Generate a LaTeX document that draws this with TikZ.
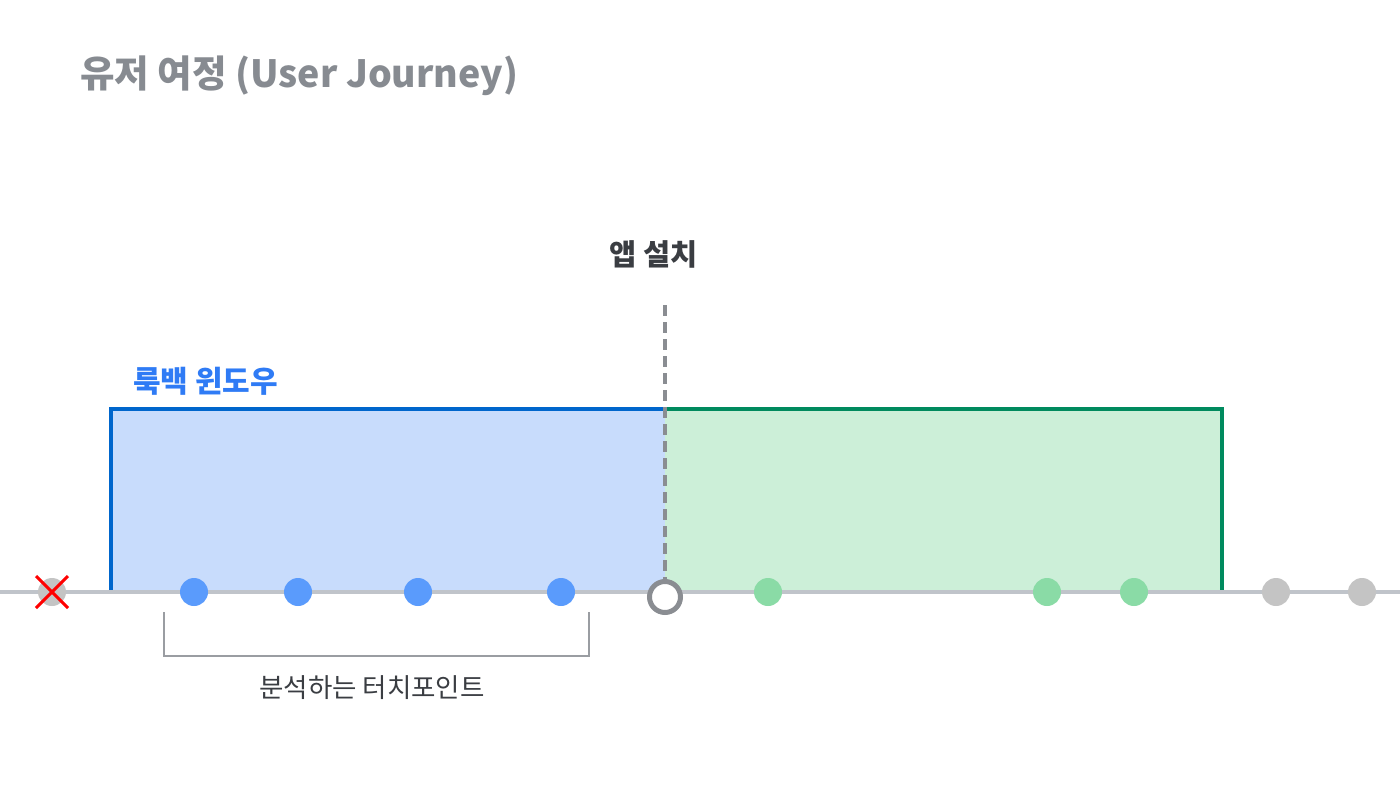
\documentclass[tikz,border=0pt]{standalone}
\usepackage{fontspec}
\setmainfont{Noto Sans CJK KR}
\usepackage{xcolor}
\usepackage{tikz}
\usetikzlibrary{positioning}

\definecolor{titlegray}{HTML}{878B91}
\definecolor{textdark}{HTML}{3A3D42}
\definecolor{lookblue}{HTML}{2F7BF5}
\definecolor{boxblue}{HTML}{0066CC}
\definecolor{fillblue}{HTML}{C8DCFC}
\definecolor{boxgreen}{HTML}{008A5E}
\definecolor{fillgreen}{HTML}{CCEFD8}
\definecolor{linegray}{HTML}{C0C4CA}
\definecolor{dashgray}{HTML}{8A8D92}
\definecolor{dotgray}{HTML}{C4C4C4}
\definecolor{dotblue}{HTML}{5A9BFC}
\definecolor{dotgreen}{HTML}{8ADBA6}
\definecolor{bracketgray}{HTML}{9A9DA2}

\begin{document}
\begin{tikzpicture}[x=1pt, y=-1pt]
  \useasboundingbox (0,0) rectangle (1400,800);
  \node[anchor=base west, inner sep=0, text=titlegray, font=\fontsize{37.5}{44}\selectfont\bfseries] (Title) at (80,87) {유저 여정 (User Journey)};  % Title

  % Windows
  \fill[fillblue] (111,409) rectangle (665,592);
  \fill[fillgreen] (665,409) rectangle (1222,592);
  \draw[boxblue, line width=4pt] (111,592) -- (111,409) -- (665,409);
  \draw[boxgreen, line width=4pt] (665,409) -- (1222,409) -- (1222,592);
  \node[anchor=base west, inner sep=0, text=lookblue, font=\fontsize{30}{36}\selectfont\bfseries] (Lookback) at (133,392) {룩백 윈도우};

  % Timeline
  \coordinate (Line-start) at (0,592);
  \coordinate (Line-end) at (1400,592);
  \draw[linegray, line width=4pt] (Line-start) -- (Line-end);

  % Install marker
  \coordinate (Install-top) at (665,305);
  \node[circle, minimum size=31pt, inner sep=0, draw=dashgray, line width=5pt, fill=white] (Install) at (665,597) {};
  \draw[dashgray, line width=4pt, dash pattern=on 11pt off 6pt] (Install-top) -- (Install.north);
  \node[anchor=base, inner sep=0, text=textdark, font=\fontsize{29.5}{35}\selectfont\bfseries] (Install-label) at (654,265) {앱 설치};

  % Touchpoints
  \node[circle, minimum size=28pt, inner sep=0, fill=dotgray] (Dropped) at (52,592) {};
  \draw[red, line width=3pt] (Dropped) ++(-16,-16) -- ++(32,32);
  \draw[red, line width=3pt] (Dropped) ++(16,-16) -- ++(-32,32);
  \node[circle, minimum size=28pt, inner sep=0, fill=dotblue] (Blue-1) at (194,592) {};
  \node[circle, minimum size=28pt, inner sep=0, fill=dotblue] (Blue-2) at (298,592) {};
  \node[circle, minimum size=28pt, inner sep=0, fill=dotblue] (Blue-3) at (418,592) {};
  \node[circle, minimum size=28pt, inner sep=0, fill=dotblue] (Blue-4) at (561,592) {};
  \node[circle, minimum size=28pt, inner sep=0, fill=dotgreen] (Green-1) at (768,592) {};
  \node[circle, minimum size=28pt, inner sep=0, fill=dotgreen] (Green-2) at (1047,592) {};
  \node[circle, minimum size=28pt, inner sep=0, fill=dotgreen] (Green-3) at (1134,592) {};
  \node[circle, minimum size=28pt, inner sep=0, fill=dotgray] (Gray-1) at (1276,592) {};
  \node[circle, minimum size=28pt, inner sep=0, fill=dotgray] (Gray-2) at (1362,592) {};

  % Bracket
  \coordinate (Bracket-left) at (164,612);
  \coordinate (Bracket-right) at (589,612);
  \draw[bracketgray, line width=2pt] (Bracket-left) -- ++(0,44) -| (Bracket-right);
  \node[anchor=base, inner sep=0, text=textdark, font=\fontsize{26.5}{32}\selectfont] (Bracket-label) at (372,697) {분석하는 터치포인트};
\end{tikzpicture}
\end{document}
